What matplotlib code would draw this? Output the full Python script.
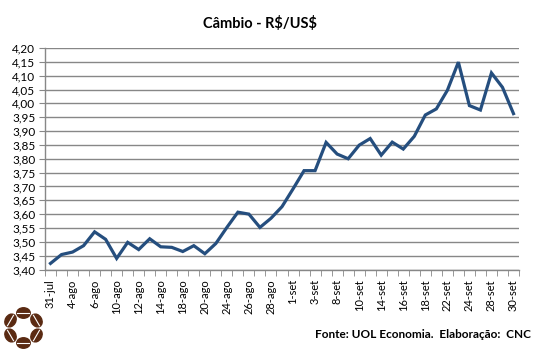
import matplotlib
matplotlib.use("Agg")
import matplotlib.pyplot as plt
from matplotlib.patches import Ellipse
from matplotlib.ticker import FuncFormatter
import numpy as np

plt.rcParams['font.family'] = ['Lato', 'DejaVu Sans']

datas = ["31-jul", "3-ago", "4-ago", "5-ago", "6-ago", "7-ago", "10-ago", "11-ago",
         "12-ago", "13-ago", "14-ago", "17-ago", "18-ago", "19-ago", "20-ago", "21-ago",
         "24-ago", "25-ago", "26-ago", "27-ago", "28-ago", "31-ago", "1-set", "2-set",
         "3-set", "4-set", "8-set", "9-set", "10-set", "11-set", "14-set", "15-set",
         "16-set", "17-set", "18-set", "21-set", "22-set", "23-set", "24-set", "25-set",
         "28-set", "29-set", "30-set"]

cambio = [3.422, 3.454, 3.463, 3.486, 3.536, 3.509, 3.440, 3.498, 3.472, 3.511,
          3.482, 3.480, 3.465, 3.486, 3.457, 3.494, 3.552, 3.607, 3.600, 3.552,
          3.585, 3.627, 3.691, 3.757, 3.757, 3.859, 3.817, 3.800, 3.849, 3.873,
          3.813, 3.860, 3.835, 3.881, 3.958, 3.980, 4.047, 4.149, 3.992, 3.976,
          4.110, 4.058, 3.963]

fig = plt.figure(figsize=(5.35, 3.54), dpi=100)
ax = fig.add_axes([0.0841, 0.2387, 0.886, 0.6257])

x = np.arange(len(cambio))
ax.plot(x, cambio, color="#254E7E", lw=2.3, solid_joinstyle="miter", zorder=3)

ax.set_xlim(-0.5, len(cambio) - 0.5)
ax.set_ylim(3.40, 4.20)
ax.set_yticks(np.arange(3.40, 4.2001, 0.05))
ax.yaxis.set_major_formatter(FuncFormatter(lambda v, p: f"{v:.2f}".replace(".", ",")))
ax.grid(axis="y", color="#878787", lw=1.0)
ax.set_axisbelow(True)

ax.set_xticks(x[::2])
ax.set_xticklabels(datas[::2], rotation=90, fontsize=8)
ax.set_xticks(np.arange(-0.5, len(cambio)), minor=True)
ax.tick_params(axis="x", which="major", length=0, pad=7)
ax.tick_params(axis="x", which="minor", length=4, color="#878787", direction="out")
ax.tick_params(axis="y", length=4, color="#878787", labelsize=8.5, pad=3)

for s in ["top", "right"]:
    ax.spines[s].set_visible(False)
for s in ["left", "bottom"]:
    ax.spines[s].set_color("#878787")
    ax.spines[s].set_linewidth(1.0)

fig.text(0.486, 0.935, r"Câmbio - R\$/US\$", ha="center", va="center",
         fontsize=10.5, fontweight="bold")
fig.text(0.993, 0.055, "Fonte: UOL Economia.  Elaboração:  CNC", ha="right",
         va="center", fontsize=8.5, fontweight="bold")

# logo: anel de graos de cafe (1 unidade = 1 pixel)
lax = fig.add_axes([0.0, 0.0, 0.1, 0.15])
lax.set_xlim(0, 53.5)
lax.set_ylim(0, 53.1)
lax.axis("off")
cx, cy, r = 23.5, 26, 15
for ang in np.arange(90, 450, 60):
    a = np.deg2rad(ang)
    px, py = cx + r * np.cos(a), cy + r * np.sin(a)
    lax.add_patch(Ellipse((px, py), 10.5, 13.5, angle=ang, color="#5A2A12"))
    dx, dy = -np.sin(a) * 6, np.cos(a) * 6
    lax.plot([px - dx, px + dx], [py - dy, py + dy], color="white", lw=0.8)

fig.savefig("out.png", dpi=100)
